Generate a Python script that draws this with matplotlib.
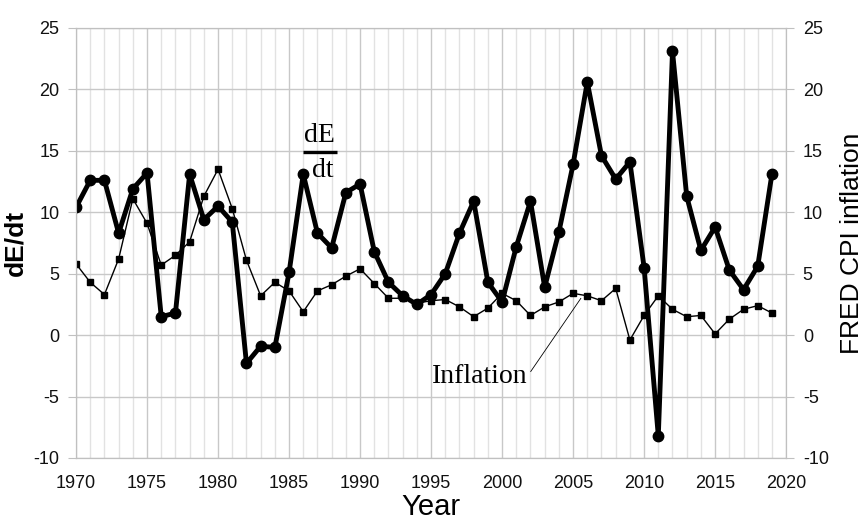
import numpy as np
import matplotlib
matplotlib.use("Agg")
import matplotlib.pyplot as plt
from matplotlib.ticker import MultipleLocator

years = np.arange(1970, 2020)

# dE/dt (thick line, circles)
dEdt = [10.4, 12.6, 12.6, 8.3, 11.9, 13.2, 1.5, 1.8, 13.1, 9.4,
        10.5, 9.2, -2.3, -0.9, -1.0, 5.1, 13.1, 8.3, 7.1, 11.6,
        12.3, 6.8, 4.3, 3.2, 2.5, 3.3, 5.0, 8.3, 10.9, 4.3,
        2.7, 7.2, 10.9, 3.9, 8.4, 13.9, 20.6, 14.6, 12.7, 14.1,
        5.5, -8.2, 23.1, 11.3, 6.9, 8.8, 5.3, 3.7, 5.6, 13.1]

# FRED CPI inflation (thin line, squares)
inflation = [5.8, 4.3, 3.3, 6.2, 11.1, 9.1, 5.7, 6.5, 7.6, 11.3,
             13.5, 10.3, 6.1, 3.2, 4.3, 3.6, 1.9, 3.6, 4.1, 4.8,
             5.4, 4.2, 3.0, 3.0, 2.6, 2.8, 2.9, 2.3, 1.5, 2.2,
             3.4, 2.8, 1.6, 2.3, 2.7, 3.4, 3.2, 2.8, 3.8, -0.4,
             1.6, 3.2, 2.1, 1.5, 1.6, 0.1, 1.3, 2.1, 2.4, 1.8]

sansFont = ["Liberation Sans", "DejaVu Sans"]
serifFont = ["Liberation Serif", "DejaVu Serif"]
plt.rcParams["font.family"] = sansFont
plt.rcParams["axes.unicode_minus"] = False

fig = plt.figure(figsize=(8.67, 5.28), dpi=100)
ax = fig.add_axes([0.0877, 0.1326, 0.819, 0.8144])

ax.set_xlim(1970, 2020)
ax.set_ylim(-10, 25)
ax.xaxis.set_major_locator(MultipleLocator(5))
ax.xaxis.set_minor_locator(MultipleLocator(1))
ax.yaxis.set_major_locator(MultipleLocator(5))

ax.grid(which="minor", axis="x", color="#e2e2e2", linewidth=1)
ax.grid(which="major", axis="x", color="#c8c8c8", linewidth=1)
ax.grid(which="major", axis="y", color="#c8c8c8", linewidth=1)
ax.set_axisbelow(True)

for s in ax.spines.values():
    s.set_color("#c0c0c0")

ax.plot(years, inflation, color="black", linewidth=1, marker="s",
        markersize=5, zorder=3)
ax.plot(years, dEdt, color="black", linewidth=3.5, marker="o",
        markersize=7.5, zorder=4)

ax.tick_params(axis="y", which="major", length=6, color="#c0c0c0",
               labelsize=13, labelcolor="#111111", pad=6)
ax.tick_params(axis="x", which="both", length=0, labelsize=13,
               labelcolor="#111111", pad=12)

ax2 = ax.twinx()
ax2.set_ylim(-10, 25)
ax2.yaxis.set_major_locator(MultipleLocator(5))
ax2.tick_params(axis="y", length=6, color="#c0c0c0", labelsize=13,
                labelcolor="#111111", pad=6)
for s in ax2.spines.values():
    s.set_color("#c0c0c0")

ax.set_xlabel("Year", fontsize=21, labelpad=1)
ax.set_ylabel("dE/dt", fontsize=19, fontweight="bold", labelpad=4)
ax2.set_ylabel("FRED CPI inflation", fontsize=19, labelpad=8)

# dE/dt fraction label
ax.text(1987.15, 15.2, "dE", family=serifFont, fontsize=20,
        ha="center", va="bottom", zorder=5)
ax.plot([1986.0, 1988.35], [14.9, 14.9], color="black", linewidth=2.4,
        zorder=5, solid_capstyle="butt")
ax.text(1987.4, 14.4, "dt", family=serifFont, fontsize=20,
        ha="center", va="top", zorder=5)

# Inflation label with leader line
ax.annotate("Inflation", xy=(2005.55, 3.0), xytext=(1998.45, -3.4),
            family=serifFont, fontsize=20, ha="center", va="center",
            arrowprops=dict(arrowstyle="-", color="black", linewidth=0.6,
                            shrinkA=0, shrinkB=0, relpos=(1.0, 0.55)),
            zorder=5)

fig.savefig("out.png", dpi=100)
